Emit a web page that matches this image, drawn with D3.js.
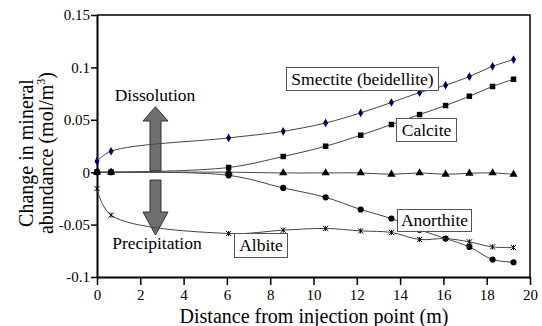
<!DOCTYPE html>
<html>
<head>
<meta charset="utf-8">
<script src="https://cdn.jsdelivr.net/npm/d3@7"></script>
<style>
  body { margin: 0; background: #fff; font-family: "Liberation Serif"; }
  #wrap { position: relative; width: 542px; height: 326px; }
  .note { position: absolute; width: 200px; text-align: center; line-height: 1;
          font-family: "Liberation Serif"; color: #000; white-space: nowrap; }
  #xtitle { left: 64px; width: 500px; top: 306px; font-size: 20px; }
  #ytitle { left: -63.75px; top: 133px; width: 200px; height: 40px; font-size: 20px; line-height: 20px;
            transform: rotate(-90deg); }
  #ytitle .sup { font-size: 12px; vertical-align: 8px; line-height: 0; }
  #dis { left: 55px; top: 87px; font-size: 17.5px; }
  #pre { left: 57px; top: 235px; font-size: 17.5px; }
  .box { position: absolute; box-sizing: border-box; border: 1px solid #555; background: #fff;
         text-align: center; font-family: "Liberation Serif"; font-size: 17.5px; color: #000; white-space: nowrap; }
  #lb-sm { left: 286px; top: 67px; width: 153px; height: 24px; line-height: 22px; }
  #lb-ca { left: 396px; top: 118px; width: 61px; height: 24px; line-height: 22px; }
  #lb-an { left: 397px; top: 209px; width: 75px; height: 23px; line-height: 21px; }
  #lb-al { left: 234px; top: 233px; width: 54px; height: 25px; line-height: 23px; }
</style>
</head>
<body>
<div id="wrap">
  <div class="note" id="xtitle">Distance from injection point (m)</div>
  <div class="note" id="ytitle">Change in mineral<br>abundance (mol/m<span class="sup">3</span>)</div>
  <div class="note" id="dis">Dissolution</div>
  <div class="note" id="pre">Precipitation</div>
  <div class="box" id="lb-sm">Smectite (beidellite)</div>
  <div class="box" id="lb-ca">Calcite</div>
  <div class="box" id="lb-an">Anorthite</div>
  <div class="box" id="lb-al">Albite</div>
  <div id="chart"></div>
</div>
<script>
// values
const distance = [0, 0.65, 6.08, 8.6, 10.56, 12.18, 13.6, 14.9, 16.1, 17.2, 18.27, 19.24];
const smectite = [0.0105, 0.020, 0.0327, 0.039, 0.047, 0.0566, 0.0665, 0.076, 0.083, 0.0913, 0.101, 0.1075];
const calcite = [0, 0, 0.0045, 0.015, 0.0248, 0.0353, 0.0455, 0.055, 0.0636, 0.0725, 0.0818, 0.0887];
const other = [0, 0, 0, -0.0007, -0.0007, -0.0007, -0.002, -0.0007, -0.002, -0.001, -0.0007, -0.002];
const anorthite = [0, 0, -0.003, -0.015, -0.024, -0.0356, -0.0442, -0.055, -0.0633, -0.0713, -0.0833, -0.0859];
const albite = [-0.0156, -0.041, -0.0585, -0.0553, -0.0537, -0.056, -0.0575, -0.0642, -0.0633, -0.0665, -0.0713, -0.0719];

const xTicks = [0, 2, 4, 6, 8, 10, 12, 14, 16, 18, 20];
const yTicks = [-0.1, -0.05, 0, 0.05, 0.1, 0.15];

const FONT = "Liberation Serif";

const W = 542, H = 326;
const margin = { top: 15, right: 12, bottom: 49, left: 97 };

const svg = d3.select("#chart").append("svg")
  .attr("width", W).attr("height", H)
  .style("display", "block");

const x = d3.scaleLinear().domain([0, 20]).range([margin.left, W - margin.right]);
const y = d3.scaleLinear().domain([-0.1, 0.15]).range([H - margin.bottom, margin.top]);

// frame: top and right border
svg.append("path")
  .attr("d", `M${x(0)},${y(0.15)}H${x(20)}V${y(-0.1)}`)
  .attr("fill", "none").attr("stroke", "#000").attr("stroke-width", 1.5);

// axes
const xAxis = svg.append("g")
  .attr("transform", `translate(0,${y(-0.1)})`)
  .call(d3.axisBottom(x).tickValues(xTicks).tickSize(8).tickSizeOuter(0).tickPadding(4));
const yAxis = svg.append("g")
  .attr("transform", `translate(${x(0)},0)`)
  .call(d3.axisLeft(y).tickValues(yTicks).tickSize(6).tickSizeOuter(0).tickPadding(1)
    .tickFormat(d => d === 0 ? "0" : String(d)));

[xAxis, yAxis].forEach(g => {
  g.attr("font-family", FONT).attr("font-size", 15);
  g.select(".domain").attr("stroke", "#000").attr("stroke-width", 2);
  g.selectAll(".tick line").attr("stroke", "#000").attr("stroke-width", 1.5);
  g.selectAll(".tick text").attr("fill", "#000");
});

// arrows
function arrow(up) {
  const cx = 155.5;
  const pts = up
    ? [[cx - 5.5, 170.7], [cx - 5.5, 121], [cx - 12.5, 121], [cx, 106.7], [cx + 12.5, 121], [cx + 5.5, 121], [cx + 5.5, 170.7]]
    : [[cx - 5.5, 180], [cx - 5.5, 212], [cx - 12.5, 212], [cx, 235], [cx + 12.5, 212], [cx + 5.5, 212], [cx + 5.5, 180]];
  svg.append("polygon")
    .attr("points", pts.map(p => p.join(",")).join(" "))
    .attr("fill", "#6f6f6f").attr("stroke", "#333").attr("stroke-width", 1);
}
arrow(true);
arrow(false);

// series
const series = [
  { values: smectite, marker: "diamond", color: "#000066" },
  { values: calcite, marker: "square", color: "#000" },
  { values: other, marker: "triangle", color: "#000" },
  { values: anorthite, marker: "circle", color: "#000" },
  { values: albite, marker: "star", color: "#000" }
];

const line = d3.line()
  .x(d => x(d[0])).y(d => y(d[1]))
  .curve(d3.curveCatmullRom.alpha(0.5));

const symbols = {
  diamond: d3.symbol().type(d3.symbolDiamond).size(22),
  square: d3.symbol().type(d3.symbolSquare).size(30),
  triangle: d3.symbol().type(d3.symbolTriangle).size(30),
  circle: d3.symbol().type(d3.symbolCircle).size(30)
};

series.forEach(s => {
  const pts = distance.map((d, i) => [d, s.values[i]]);
  svg.append("path")
    .datum(pts)
    .attr("fill", "none").attr("stroke", "#444").attr("stroke-width", 1)
    .attr("d", line);
  const g = svg.append("g");
  pts.forEach(p => {
    if (s.marker === "star") {
      const px = x(p[0]), py = y(p[1]), r = 2.6;
      g.append("path")
        .attr("d", `M${px - r},${py - r}L${px + r},${py + r}M${px - r},${py + r}L${px + r},${py - r}M${px},${py - r}V${py + r}`)
        .attr("stroke", s.color).attr("stroke-width", 1);
    } else {
      g.append("path")
        .attr("transform", `translate(${x(p[0])},${y(p[1])})`)
        .attr("d", symbols[s.marker]())
        .attr("fill", s.color);
    }
  });
});
</script>
</body>
</html>
